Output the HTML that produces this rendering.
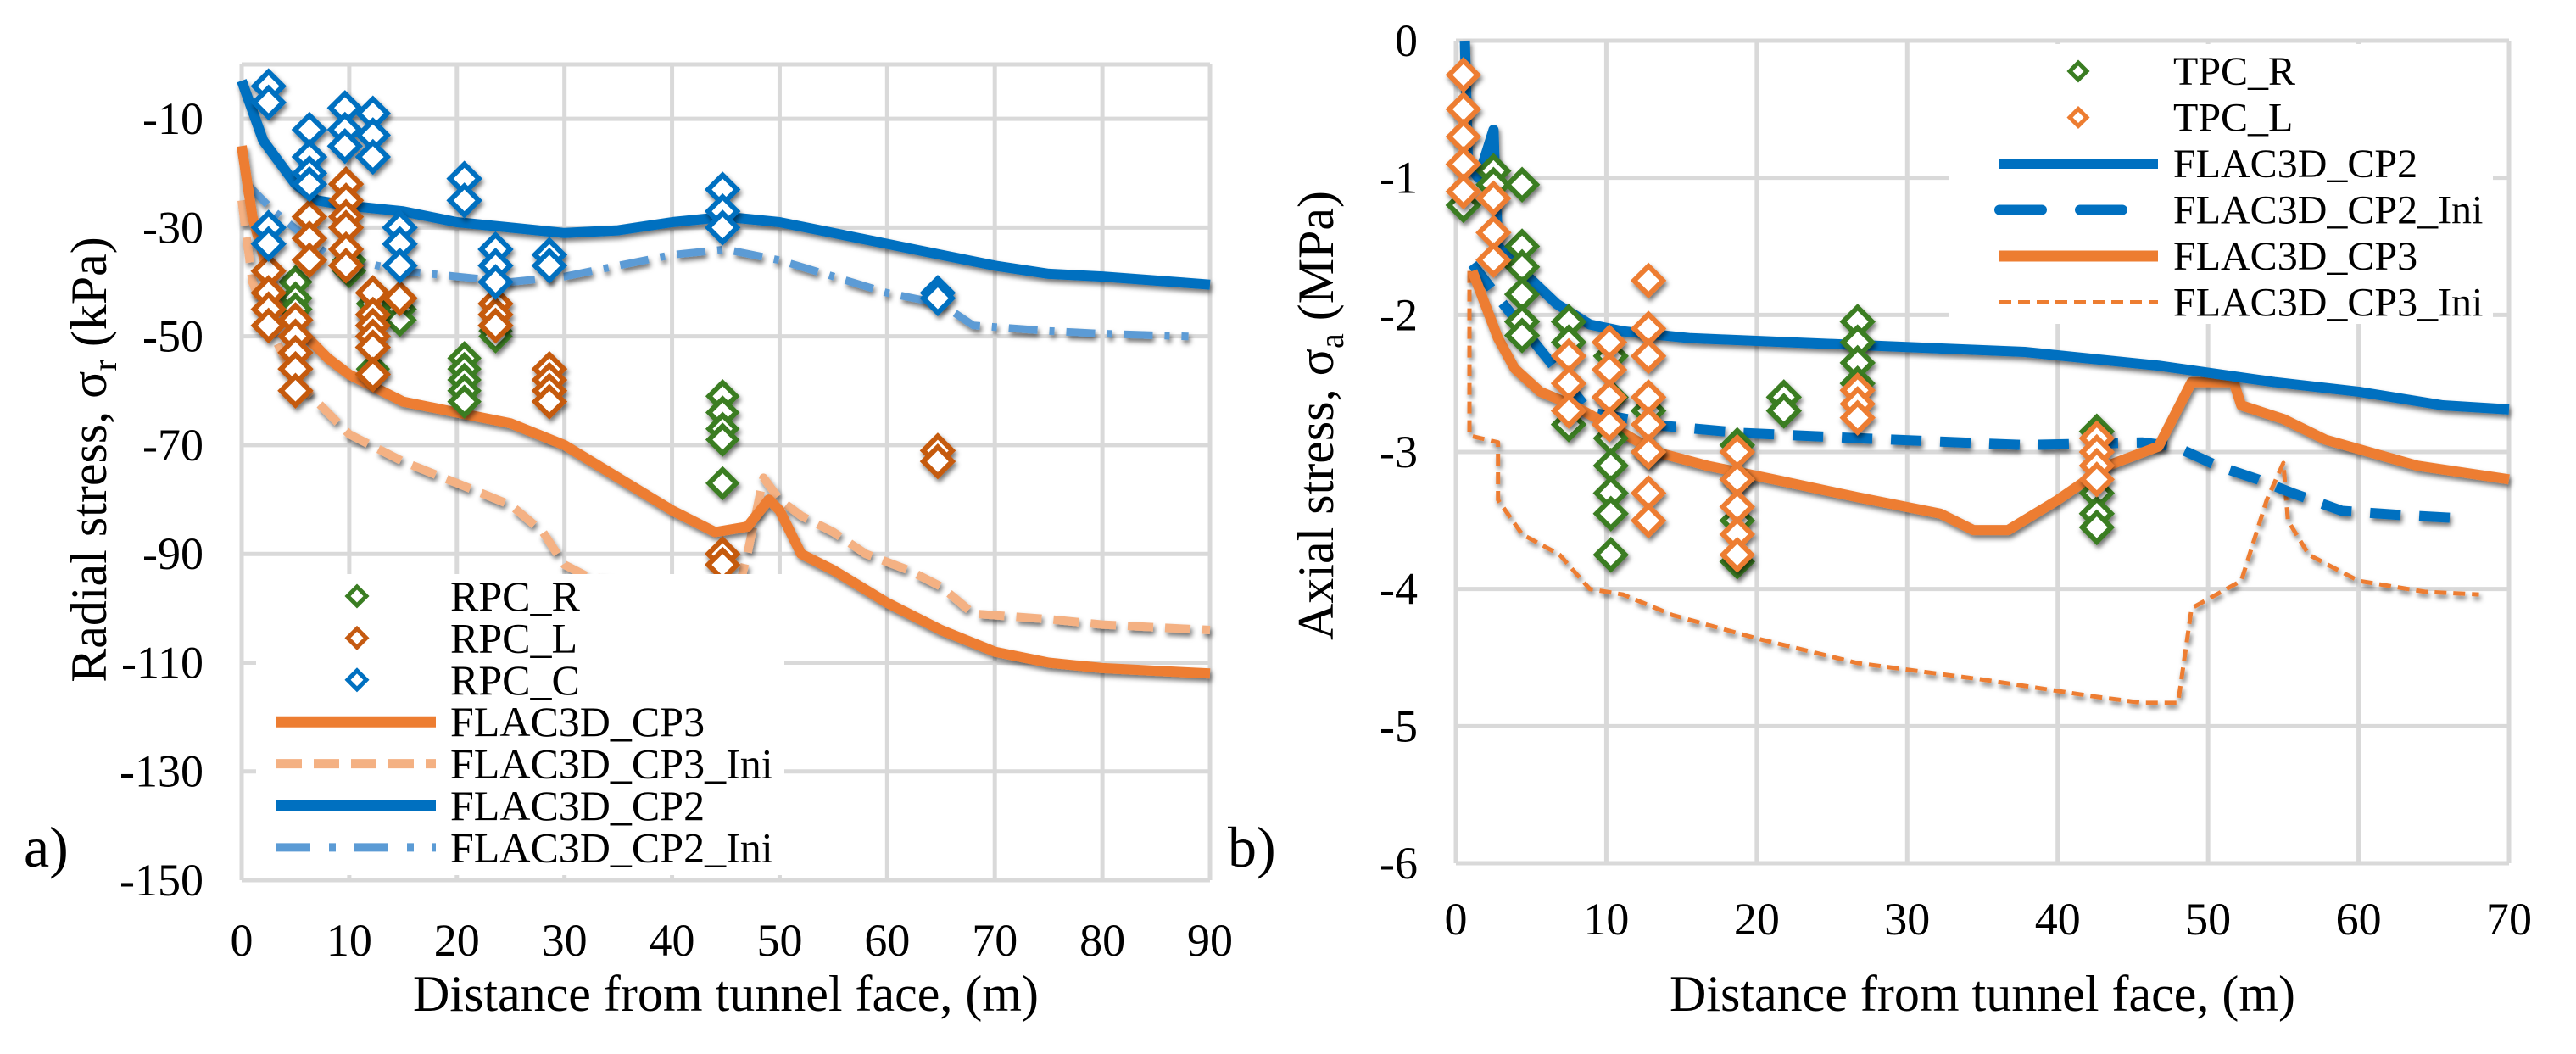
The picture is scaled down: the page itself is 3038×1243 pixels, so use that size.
<!DOCTYPE html>
<html><head><meta charset="utf-8"><style>
html,body{margin:0;padding:0;background:#fff;}
svg{display:block;}
text{font-family:"Liberation Serif","DejaVu Serif",serif;}
</style></head><body>
<svg id="c" width="3038" height="1243" viewBox="0 0 3038 1243" xmlns="http://www.w3.org/2000/svg">
<defs>
<filter id="sh" x="-20%" y="-20%" width="140%" height="140%"><feDropShadow dx="2" dy="4" stdDeviation="3" flood-color="#000" flood-opacity="0.55"/></filter>
</defs>
</svg>
<script>
// ---------- Left chart data (x in m, y in kPa) ----------
const lXTicks=[0,10,20,30,40,50,60,70,80,90];
const lYTicks=[-10,-30,-50,-70,-90,-110,-130,-150];
const cp2X=[0,2,5,7,10,15,20,25,30,35,40,45,50,55,60,65,70,75,80,90];
const cp2Y=[-3,-14,-22,-25,-26,-27,-29,-30,-31,-30.5,-29,-28,-29,-31,-33,-35,-37,-38.5,-39,-40.5];
const cp2iX=[0.5,3,8,15,20,25,30,35,40,45,50,55,60,65,68,75,80,88];
const cp2iY=[-22,-27,-35,-38,-39,-40,-39,-37,-35,-34,-36,-39,-42,-44,-48,-49,-49.5,-50];
const cp3X=[0,1,3,5,8,10,15,20,25,30,35,40,44,47,49,50,52,55,60,65,70,75,80,90];
const cp3Y=[-15,-28,-42,-48,-54,-57,-62,-64,-66,-70,-76,-82,-86,-85,-80,-82,-90,-93,-99,-104,-108,-110,-111,-112];
const cp3iX=[0,1,3,5,8,10,15,20,25,28,30,32,40,46,47,48.5,50,52,55,58,62,65,68,75,80,90];
const cp3iY=[-25,-40,-50,-58,-64,-68,-73,-77,-81,-86,-92,-94,-97,-98,-90,-76,-80,-83,-86,-90,-93,-96,-101,-102,-103,-104];
const rpcRX=[5,5,5,10,10,12.2,12.2,12.2,14.7,14.7,20.7,20.7,20.7,20.7,20.7,23.6,23.6,44.7,44.7,44.7,44.7,44.7];
const rpcRY=[-40,-43,-45,-36,-38,-44,-46,-56,-45,-47,-54,-56,-58,-60,-62,-49,-50,-61,-64,-67,-69,-77];
const rpcLX=[2.5,2.5,2.5,2.5,5,5,5,5,5,6.3,6.3,6.3,9.7,9.7,9.7,9.7,9.7,9.7,12.2,12.2,12.2,12.2,12.2,12.2,14.7,23.6,23.6,23.6,28.6,28.6,28.6,28.6,44.7,44.7,64.7,64.7];
const rpcLY=[-38,-42,-45,-48,-47,-50,-53,-56,-60,-28,-32,-36,-22,-25,-28,-30,-34,-37,-42,-46,-48,-50,-52,-57,-43,-44,-46,-48,-56,-58,-60,-62,-90,-92,-71,-73];
const rpcCX=[2.5,2.5,2.5,2.5,6.3,6.3,6.3,6.3,9.6,9.6,9.6,12.2,12.2,12.2,14.7,14.7,14.7,20.7,20.7,23.6,23.6,23.6,28.6,28.6,44.7,44.7,44.7,64.7,64.7];
const rpcCY=[-4,-7,-30,-33,-12,-17,-20,-22,-8,-12,-15,-9,-13,-17,-30,-33,-37,-21,-25,-34,-37,-40,-35,-37,-23,-27,-30,-42,-43];

// ---------- Right chart data (x in m, y in MPa) ----------
const rXTicks=[0,10,20,30,40,50,60,70];
const rYTicks=[0,-1,-2,-3,-4,-5,-6];
const aCp2X=[0.6,0.8,1.5,2.5,2.6,2.8,4.4,6.7,8.9,11.1,15.6,26.7,37.8,46.7,54.4,60,65.6,70];
const aCp2Y=[0,-0.9,-1.0,-0.65,-1.0,-1.5,-1.68,-1.92,-2.07,-2.12,-2.17,-2.22,-2.27,-2.37,-2.49,-2.56,-2.66,-2.69];
const aCp2iX=[1.1,3,6.1,8.9,13.9,18.9,26.7,37.8,45.6,47.8,50.6,53.3,55.6,58.9,62.8,66.1];
const aCp2iY=[-1.63,-1.9,-2.32,-2.71,-2.81,-2.86,-2.9,-2.95,-2.93,-2.96,-3.1,-3.2,-3.3,-3.43,-3.46,-3.48];
const aCp2sX=[4,4];
const aCp2sY=[0,-0.25];
const aCp3X=[1.1,2.8,3.9,5.6,7.8,11.1,13.3,16.7,21.1,26.7,32.2,34.4,36.7,40,43.3,46.7,48.9,51.7,52.2,55,57.8,63.9,70];
const aCp3Y=[-1.68,-2.17,-2.39,-2.56,-2.66,-2.86,-3.0,-3.1,-3.2,-3.33,-3.45,-3.57,-3.57,-3.35,-3.1,-2.96,-2.49,-2.49,-2.66,-2.76,-2.91,-3.1,-3.2];
const aCp3iX=[0.9,0.9,2.8,2.8,4.4,6.9,8.9,11.1,14.4,20,26.7,35,42.2,45.6,48,48.9,52.2,53.9,55,55.3,56.7,60,64.4,68];
const aCp3iY=[-1.68,-2.88,-2.93,-3.35,-3.6,-3.75,-4.0,-4.04,-4.19,-4.36,-4.54,-4.66,-4.78,-4.83,-4.83,-4.14,-3.94,-3.35,-3.08,-3.5,-3.75,-3.94,-4.02,-4.04];
const aCp3sX=[4,4];
const aCp3sY=[0,-0.9];
const tpcRX=[0.5,2.5,2.5,4.4,4.4,4.4,4.4,4.4,4.4,7.5,7.5,7.5,10.3,10.3,10.3,10.3,10.3,10.3,10.3,12.8,12.8,18.7,18.7,18.7,18.7,21.8,21.8,26.7,26.7,26.7,26.7,42.6,42.6,42.6,42.6];
const tpcRY=[-1.2,-0.95,-1.05,-1.05,-1.5,-1.65,-1.85,-2.05,-2.15,-2.05,-2.2,-2.8,-2.3,-2.6,-2.9,-3.1,-3.3,-3.45,-3.75,-2.7,-3.0,-2.95,-3.2,-3.5,-3.8,-2.6,-2.7,-2.05,-2.2,-2.35,-2.5,-2.85,-3.3,-3.45,-3.55];
const tpcLX=[0.5,0.5,0.5,0.5,0.5,2.5,2.5,2.5,7.5,7.5,7.5,10.2,10.2,10.2,10.2,12.8,12.8,12.8,12.8,12.8,12.8,12.8,12.8,18.7,18.7,18.7,18.7,18.7,26.7,26.7,26.7,42.6,42.6,42.6,42.6];
const tpcLY=[-0.25,-0.5,-0.7,-0.9,-1.1,-1.15,-1.4,-1.6,-2.3,-2.5,-2.7,-2.2,-2.4,-2.6,-2.8,-1.75,-2.1,-2.3,-2.6,-2.8,-3.0,-3.3,-3.5,-3.0,-3.2,-3.4,-3.6,-3.75,-2.55,-2.65,-2.75,-2.9,-3.0,-3.1,-3.2];

const NS="http://www.w3.org/2000/svg";
const FONT='"Liberation Serif", "DejaVu Serif", serif';
const svg=document.getElementById('c');
function mk(tag,attrs,parent){const e=document.createElementNS(NS,tag);for(const k in attrs)e.setAttribute(k,attrs[k]);if(tag==='text')e.setAttribute('font-family',FONT);(parent||svg).appendChild(e);return e;}

const L={x0:285,x1:1427,y0:76,y1:1038,xmin:0,xmax:90,ymin:-150,ymax:0};
const R={x0:1717,x1:2959,y0:48,y1:1018,xmin:0,xmax:70,ymin:-6,ymax:0};
function sx(A,v){return A.x0+(v-A.xmin)/(A.xmax-A.xmin)*(A.x1-A.x0);}
function sy(A,v){return A.y0+(A.ymax-v)/(A.ymax-A.ymin)*(A.y1-A.y0);}

function grid(A,xt,yt,nm){
  const g=mk('g',{});
  
  
  xt.forEach(v=>{const l=mk('line',{x1:sx(A,v),x2:sx(A,v),y1:A.y0,y2:A.y1,stroke:'#d9d9d9','stroke-width':5},g);
    });
  yt.concat([A.ymax]).forEach(v=>{const l=mk('line',{x1:A.x0,x2:A.x1,y1:sy(A,v),y2:sy(A,v),stroke:'#d9d9d9','stroke-width':5},g);
    });
}
function ticks(A,xt,yt,nm,ylabX,xlabY){
  xt.forEach(v=>{const t=mk('text',{x:sx(A,v),y:xlabY,'font-size':54,'text-anchor':'middle',fill:'#000'});t.textContent=v;
    });
  yt.forEach(v=>{const t=mk('text',{x:ylabX,y:sy(A,v)+18,'font-size':54,'text-anchor':'end',fill:'#000'});t.textContent=v;
    });
}
function line(A,xs,ys,attrs,nm){
  const p=xs.map((x,i)=>sx(A,x).toFixed(1)+','+sy(A,ys[i]).toFixed(1)).join(' ');
  const a=Object.assign({points:p,fill:'none','stroke-linejoin':'round',filter:'url(#sh)'},attrs);
  const e=mk('polyline',a);
  
  
  return e;
}
function dia(x,y,h,col,sw,nm){
  const e=mk('polygon',{points:`${x},${y-h} ${x+h},${y} ${x},${y+h} ${x-h},${y}`,fill:'#fff',stroke:col,'stroke-width':sw});
  
  
  return e;
}
function scatter(A,xs,ys,col,h,nm){
  const g=mk('g',{filter:'url(#sh)'});
  
  
  xs.forEach((x,i)=>{const d=dia(sx(A,x),sy(A,ys[i]),h,col,6,nm+'-point');g.appendChild(d);});
}

const BLUE='#0070C0',OR='#ED7D31',LOR='#F4B183',LBL='#5B9BD5',GR='#3A7D22',DOR='#C55A11';

// ---- Left chart ----
grid(L,lXTicks,lYTicks,'left');
ticks(L,lXTicks,lYTicks,'left',240,1127);
line(L,cp3iX,cp3iY,{stroke:LOR,'stroke-width':10,'stroke-dasharray':'30 14'},'flac3d-cp3-ini-line');
line(L,cp2iX,cp2iY,{stroke:LBL,'stroke-width':9,'stroke-dasharray':'34 14 6 14'},'flac3d-cp2-ini-line');
line(L,cp3X,cp3Y,{stroke:OR,'stroke-width':12},'flac3d-cp3-line');
line(L,cp2X,cp2Y,{stroke:BLUE,'stroke-width':12},'flac3d-cp2-line');
scatter(L,rpcRX,rpcRY,GR,16,'rpc-r');
scatter(L,rpcLX,rpcLY,DOR,17,'rpc-l');
scatter(L,rpcCX,rpcCY,BLUE,17,'rpc-c');

{
  const g=mk('g',{});
  mk('rect',{x:302,y:677,width:623,height:355,fill:'#fff'},g);
  const names=['RPC_R','RPC_L','RPC_C','FLAC3D_CP3','FLAC3D_CP3_Ini','FLAC3D_CP2','FLAC3D_CP2_Ini'];
  names.forEach((n,i)=>{
    const y=703+i*49.4;
    if(i<3){const c=[GR,DOR,BLUE][i];g.appendChild(dia(421,y,11,c,5,'legend-marker-'+n.toLowerCase()));}
    else{
      const st=[{stroke:OR,'stroke-width':13},{stroke:LOR,'stroke-width':11,'stroke-dasharray':'30 14'},{stroke:BLUE,'stroke-width':13},{stroke:LBL,'stroke-width':10,'stroke-dasharray':'40 22 8 22'}][i-3];
      const l=mk('line',Object.assign({x1:326,x2:514,y1:y,y2:y},st),g);
      
    }
    const t=mk('text',{x:531,y:y+17,'font-size':50,fill:'#000'},g);t.textContent=n;
    
  });
}
{
  const t=mk('text',{x:856,y:1192,'font-size':60,'text-anchor':'middle'});t.textContent='Distance from tunnel face, (m)';
  
  const y=mk('text',{x:0,y:0,'font-size':60,'text-anchor':'middle',transform:'translate(125,542) rotate(-90)'});
  y.innerHTML='Radial stress, σ<tspan font-size="40" dy="12">r</tspan><tspan dy="-12"> (kPa)</tspan>';
  
  const a=mk('text',{x:28,y:1022,'font-size':68});a.textContent='a)';
  
}

// ---- Right chart ----
grid(R,rXTicks,rYTicks,'right');
ticks(R,rXTicks,rYTicks,'right',1672,1102);
line(R,aCp3iX,aCp3iY,{stroke:OR,'stroke-width':5,'stroke-dasharray':'14 8'},'flac3d-cp3-ini-line');
line(R,aCp3sX,aCp3sY,{stroke:OR,'stroke-width':5,'stroke-dasharray':'14 8'},'flac3d-cp3-ini-spike');
line(R,aCp2iX,aCp2iY,{stroke:BLUE,'stroke-width':12,'stroke-dasharray':'36 22'},'flac3d-cp2-ini-line');
line(R,aCp2sX,aCp2sY,{stroke:BLUE,'stroke-width':10},'flac3d-cp2-ini-spike');
line(R,aCp3X,aCp3Y,{stroke:OR,'stroke-width':12},'flac3d-cp3-line');
line(R,aCp2X,aCp2Y,{stroke:BLUE,'stroke-width':12},'flac3d-cp2-line');
scatter(R,tpcRX,tpcRY,GR,17,'tpc-r');
scatter(R,tpcLX,tpcLY,OR,17,'tpc-l');

{
  const g=mk('g',{});
  mk('rect',{x:2299,y:52,width:641,height:330,fill:'#fff'},g);
  const names=['TPC_R','TPC_L','FLAC3D_CP2','FLAC3D_CP2_Ini','FLAC3D_CP3','FLAC3D_CP3_Ini'];
  names.forEach((n,i)=>{
    const y=84+i*54.5;
    if(i<2){g.appendChild(dia(2451,y,10,[GR,OR][i],5,'legend-marker-'+n.toLowerCase()));}
    else{
      const st=[{stroke:BLUE,'stroke-width':12},{stroke:BLUE,'stroke-width':12,'stroke-dasharray':'50 45','stroke-linecap':'round'},{stroke:OR,'stroke-width':13},{stroke:OR,'stroke-width':5,'stroke-dasharray':'14 8'}][i-2];
      const l=mk('line',Object.assign({x1:2358,x2:2545,y1:y,y2:y},st),g);
      
    }
    const t=mk('text',{x:2563,y:y+16,'font-size':48,fill:'#000'},g);t.textContent=n;
    
  });
}
{
  const t=mk('text',{x:2338,y:1192,'font-size':60,'text-anchor':'middle'});t.textContent='Distance from tunnel face, (m)';
  
  const y=mk('text',{x:0,y:0,'font-size':60,'text-anchor':'middle',transform:'translate(1572,490) rotate(-90)'});
  y.innerHTML='Axial stress, σ<tspan font-size="40" dy="12">a</tspan><tspan dy="-12"> (MPa)</tspan>';
  
  const b=mk('text',{x:1448,y:1022,'font-size':68});b.textContent='b)';
  
}
</script>
</body></html>
